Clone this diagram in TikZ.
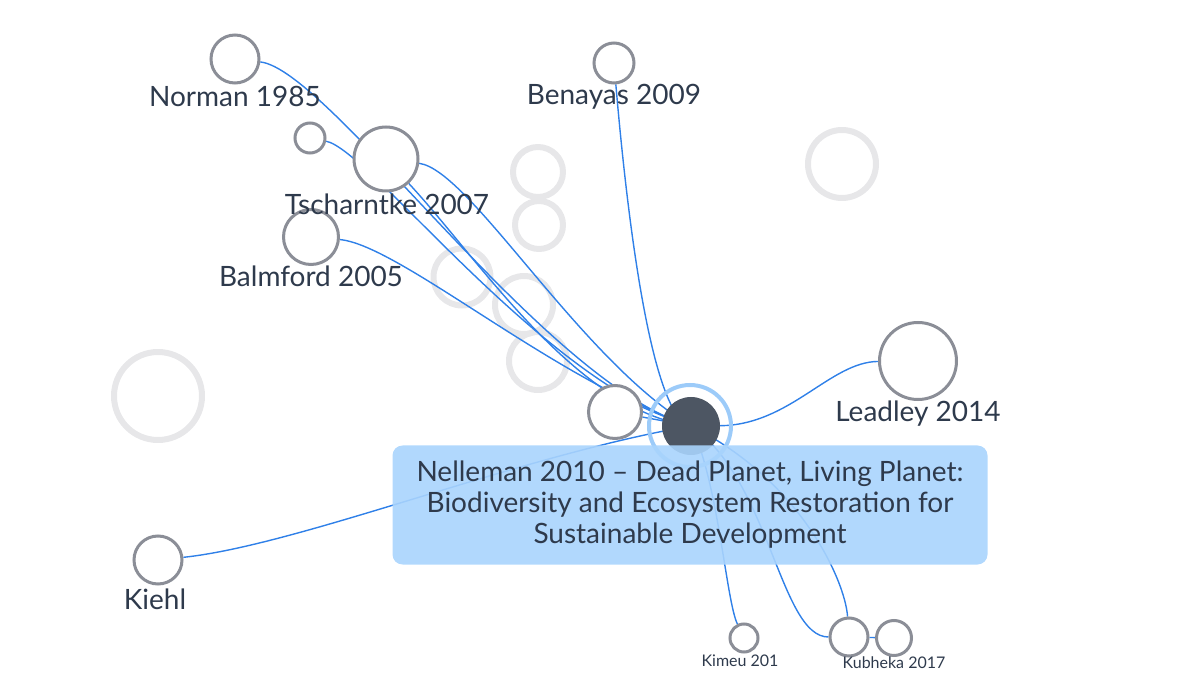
\documentclass[tikz,border=0pt]{standalone}
\usepackage{fontspec}
\setmainfont{Lato}
\pgfdeclarelayer{faded}
\pgfdeclarelayer{edges}
\pgfsetlayers{faded,edges,main}
\definecolor{edgeblue}{HTML}{2F80E8}
\definecolor{nodegray}{HTML}{8B8E97}
\definecolor{fadegray}{HTML}{E7E7E9}
\definecolor{darknode}{HTML}{4D5663}
\definecolor{ringblue}{HTML}{9CCBF9}
\definecolor{boxblue}{HTML}{A9D4FD}
\definecolor{txt}{HTML}{2E3A4C}
\begin{document}
\begin{tikzpicture}[x=1pt,y=-1pt,
  gnode/.style={circle,draw=nodegray,line width=3pt,fill=white,inner sep=0pt,minimum size=#1},
  fnode/.style={circle,draw=fadegray,line width=6pt,inner sep=0pt,minimum size=#1},
  edge/.style={draw=edgeblue,line width=1.4pt},
  lbl/.style={text=txt,font=\fontsize{28}{32}\selectfont,inner sep=0pt},
  slbl/.style={text=txt,font=\fontsize{16}{19}\selectfont,inner sep=0pt},
  tipbox/.style={fill=boxblue,fill opacity=0.9,text opacity=1,rounded corners=10pt,
    minimum width=595pt,minimum height=119pt,align=center,text=txt,
    font=\fontsize{28}{31}\selectfont,inner sep=0pt}
]
\useasboundingbox (0,0) rectangle (1200,700);

% faded background nodes
\begin{pgfonlayer}{faded}
\node[fnode=50pt] (f1) at (538,172) {};
\node[fnode=48pt] (f2) at (539,225) {};
\node[fnode=57pt] (f3) at (462,277) {};
\node[fnode=58pt] (f4) at (524,305) {};
\node[fnode=58pt] (f5) at (538,361) {};
\node[fnode=68pt] (f6) at (842,164) {};
\node[fnode=88pt] (f7) at (158,396) {};
\end{pgfonlayer}

% main nodes
\node[gnode=48pt] (norman) at (235,59) {};
\node[gnode=30pt] (small) at (310,138) {};
\node[gnode=64pt] (tsch) at (386,159) {};
\node[gnode=55pt] (balm) at (311,237) {};
\node[gnode=40pt] (bena) at (614,63) {};
\node[gnode=53pt] (white) at (615,412) {};
\node[circle,fill=darknode,inner sep=0pt,minimum size=58pt] (dark) at (691,426) {};
\node[circle,draw=ringblue,line width=4pt,inner sep=0pt,minimum size=82pt] (ring) at (690,426) {};
\node[gnode=77pt] (lead) at (918,361) {};
\node[gnode=48pt] (kiehl) at (158,560) {};
\node[gnode=28pt] (kimeu) at (744,638) {};
\node[gnode=38pt] (kubl) at (849,637) {};
\node[gnode=35pt] (kubr) at (894,638) {};

% edges
\begin{pgfonlayer}{edges}
\draw[edge] (norman) .. controls (330,70) and (545,385) .. (dark.center);
\draw[edge] (small) .. controls (370,150) and (540,380) .. (dark.center);
\draw[edge] (tsch) .. controls (480,260) and (575,410) .. (dark.center);
\draw[edge] (tsch) .. controls (470,170) and (580,360) .. (dark.center);
\draw[edge] (balm) .. controls (400,245) and (560,385) .. (dark.center);
\draw[edge] (bena) .. controls (630,250) and (655,420) .. (dark.center);
\draw[edge] (lead) .. controls (830,362) and (790,425) .. (dark);
\draw[edge] (kiehl) .. controls (300,545) and (520,455) .. (dark.center);
\draw[edge] (white) -- (dark.center);
\draw[edge] (dark.center) .. controls (718,480) and (726,600) .. (kimeu);
\draw[edge] (dark.center) .. controls (770,480) and (780,637) .. (kubl);
\draw[edge] (dark.center) .. controls (800,480) and (845,580) .. (kubl);
\draw[edge] (kubl) -- (kubr);
\end{pgfonlayer}

% labels
\node[lbl] (normanl) at (235,96) {Norman 1985};
\node[lbl] (tschl) at (387,204) {Tscharntke 2007};
\node[lbl] (balml) at (311,276) {Balmford 2005};
\node[lbl] (benal) at (614,97) {Benayas 2009};
\node[lbl] (leadl) at (918,414) {Leadley 2014};
\node[lbl] (kiehll) at (155,599) {Kiehl};
\node[slbl] (kimeul) at (740,661) {Kimeu 201};
\node[slbl] (kubl-l) at (894,663) {Kubheka 2017};

% tooltip box
\node[tipbox] (tip) at (690,505) {Nelleman 2010 – Dead Planet, Living Planet:\\Biodiversity and Ecosystem Restoration for\\Sustainable Development};
\end{tikzpicture}
\end{document}
